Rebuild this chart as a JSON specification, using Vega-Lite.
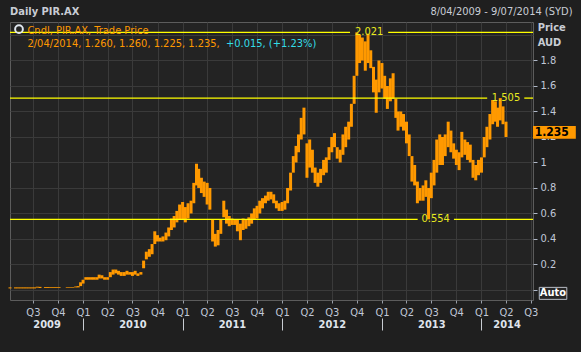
{
  "$schema": "https://vega.github.io/schema/vega-lite/v6.json",
  "width": 523,
  "height": 278,
  "autosize": {"type": "none"},
  "padding": {"left": 10, "top": 22, "right": 48, "bottom": 52},
  "background": "#1f1f1f",
  "config": {
    "view": {"stroke": "#5c5c5c", "fill": "#232323"},
    "font": "Tahoma, 'DejaVu Sans Condensed', 'Liberation Sans', sans-serif",
    "axis": {"labelFont": "Tahoma, 'DejaVu Sans Condensed', 'Liberation Sans', sans-serif"},
    "text": {"font": "Tahoma, 'DejaVu Sans Condensed', 'Liberation Sans', sans-serif"}
  },
  "datasets": {
    "candles": [
      {"d": "2009-04-08", "lo": 0.012, "hi": 0.02},
      {"d": "2009-04-28", "lo": 0.012, "hi": 0.02},
      {"d": "2009-05-08", "lo": 0.012, "hi": 0.02},
      {"d": "2009-05-18", "lo": 0.012, "hi": 0.02},
      {"d": "2009-05-28", "lo": 0.012, "hi": 0.02},
      {"d": "2009-06-07", "lo": 0.012, "hi": 0.02},
      {"d": "2009-06-17", "lo": 0.012, "hi": 0.02},
      {"d": "2009-06-27", "lo": 0.012, "hi": 0.02},
      {"d": "2009-07-07", "lo": 0.012, "hi": 0.02},
      {"d": "2009-07-17", "lo": 0.018, "hi": 0.025},
      {"d": "2009-07-27", "lo": 0.015, "hi": 0.024},
      {"d": "2009-08-16", "lo": 0.015, "hi": 0.022},
      {"d": "2009-08-26", "lo": 0.015, "hi": 0.022},
      {"d": "2009-09-05", "lo": 0.016, "hi": 0.022},
      {"d": "2009-09-15", "lo": 0.016, "hi": 0.022},
      {"d": "2009-09-25", "lo": 0.016, "hi": 0.022},
      {"d": "2009-10-05", "lo": 0.016, "hi": 0.022},
      {"d": "2009-11-04", "lo": 0.018, "hi": 0.023},
      {"d": "2009-11-14", "lo": 0.018, "hi": 0.023},
      {"d": "2009-11-24", "lo": 0.018, "hi": 0.023},
      {"d": "2009-12-05", "lo": 0.02, "hi": 0.027},
      {"d": "2009-12-14", "lo": 0.02, "hi": 0.03},
      {"d": "2009-12-23", "lo": 0.03, "hi": 0.06},
      {"d": "2010-01-01", "lo": 0.05, "hi": 0.08},
      {"d": "2010-01-11", "lo": 0.08, "hi": 0.1},
      {"d": "2010-01-21", "lo": 0.08, "hi": 0.1},
      {"d": "2010-02-01", "lo": 0.08, "hi": 0.1},
      {"d": "2010-02-11", "lo": 0.08, "hi": 0.1},
      {"d": "2010-02-21", "lo": 0.08, "hi": 0.1},
      {"d": "2010-03-01", "lo": 0.09, "hi": 0.12},
      {"d": "2010-03-11", "lo": 0.09, "hi": 0.115},
      {"d": "2010-03-21", "lo": 0.08, "hi": 0.1},
      {"d": "2010-04-01", "lo": 0.08, "hi": 0.1},
      {"d": "2010-04-11", "lo": 0.1, "hi": 0.14},
      {"d": "2010-04-21", "lo": 0.12, "hi": 0.16},
      {"d": "2010-05-01", "lo": 0.13, "hi": 0.16},
      {"d": "2010-05-11", "lo": 0.12, "hi": 0.15},
      {"d": "2010-05-21", "lo": 0.11, "hi": 0.14},
      {"d": "2010-06-01", "lo": 0.11, "hi": 0.14},
      {"d": "2010-06-11", "lo": 0.12, "hi": 0.15},
      {"d": "2010-06-21", "lo": 0.12, "hi": 0.14},
      {"d": "2010-07-01", "lo": 0.11, "hi": 0.14},
      {"d": "2010-07-11", "lo": 0.12, "hi": 0.15},
      {"d": "2010-07-21", "lo": 0.11, "hi": 0.13},
      {"d": "2010-08-01", "lo": 0.12, "hi": 0.14},
      {"d": "2010-08-11", "lo": 0.17, "hi": 0.23},
      {"d": "2010-08-21", "lo": 0.24, "hi": 0.3},
      {"d": "2010-09-01", "lo": 0.26, "hi": 0.32},
      {"d": "2010-09-11", "lo": 0.28, "hi": 0.36},
      {"d": "2010-09-21", "lo": 0.36, "hi": 0.46},
      {"d": "2010-10-01", "lo": 0.38, "hi": 0.43},
      {"d": "2010-10-11", "lo": 0.38, "hi": 0.41},
      {"d": "2010-10-21", "lo": 0.38, "hi": 0.42},
      {"d": "2010-11-01", "lo": 0.39, "hi": 0.45},
      {"d": "2010-11-11", "lo": 0.42, "hi": 0.49},
      {"d": "2010-11-21", "lo": 0.47, "hi": 0.56},
      {"d": "2010-12-01", "lo": 0.49, "hi": 0.58},
      {"d": "2010-12-11", "lo": 0.53, "hi": 0.62},
      {"d": "2010-12-21", "lo": 0.55, "hi": 0.67},
      {"d": "2011-01-01", "lo": 0.55, "hi": 0.69},
      {"d": "2011-01-11", "lo": 0.53, "hi": 0.65},
      {"d": "2011-01-21", "lo": 0.56, "hi": 0.68},
      {"d": "2011-02-01", "lo": 0.6, "hi": 0.7},
      {"d": "2011-02-11", "lo": 0.68, "hi": 0.84},
      {"d": "2011-02-21", "lo": 0.82, "hi": 0.99},
      {"d": "2011-03-01", "lo": 0.8, "hi": 0.95},
      {"d": "2011-03-11", "lo": 0.76, "hi": 0.88},
      {"d": "2011-03-21", "lo": 0.73, "hi": 0.85},
      {"d": "2011-04-01", "lo": 0.67, "hi": 0.84},
      {"d": "2011-04-11", "lo": 0.63, "hi": 0.8},
      {"d": "2011-04-21", "lo": 0.38, "hi": 0.55},
      {"d": "2011-05-01", "lo": 0.34, "hi": 0.44},
      {"d": "2011-05-11", "lo": 0.35, "hi": 0.47},
      {"d": "2011-05-21", "lo": 0.44, "hi": 0.55},
      {"d": "2011-06-01", "lo": 0.57, "hi": 0.7},
      {"d": "2011-06-11", "lo": 0.52, "hi": 0.63},
      {"d": "2011-06-21", "lo": 0.5, "hi": 0.58},
      {"d": "2011-07-01", "lo": 0.51, "hi": 0.56},
      {"d": "2011-07-11", "lo": 0.51, "hi": 0.55},
      {"d": "2011-07-21", "lo": 0.46, "hi": 0.55},
      {"d": "2011-08-01", "lo": 0.39, "hi": 0.52},
      {"d": "2011-08-11", "lo": 0.47, "hi": 0.56},
      {"d": "2011-08-21", "lo": 0.48, "hi": 0.55},
      {"d": "2011-09-01", "lo": 0.5, "hi": 0.57},
      {"d": "2011-09-11", "lo": 0.52, "hi": 0.6},
      {"d": "2011-09-21", "lo": 0.55, "hi": 0.64},
      {"d": "2011-10-01", "lo": 0.56, "hi": 0.66},
      {"d": "2011-10-11", "lo": 0.6, "hi": 0.7},
      {"d": "2011-10-21", "lo": 0.64, "hi": 0.72},
      {"d": "2011-11-01", "lo": 0.68, "hi": 0.74},
      {"d": "2011-11-11", "lo": 0.7, "hi": 0.77},
      {"d": "2011-11-21", "lo": 0.71, "hi": 0.77},
      {"d": "2011-12-01", "lo": 0.68, "hi": 0.75},
      {"d": "2011-12-11", "lo": 0.64, "hi": 0.7},
      {"d": "2011-12-21", "lo": 0.62, "hi": 0.68},
      {"d": "2012-01-01", "lo": 0.62, "hi": 0.69},
      {"d": "2012-01-11", "lo": 0.63, "hi": 0.7},
      {"d": "2012-01-21", "lo": 0.68, "hi": 0.8},
      {"d": "2012-02-01", "lo": 0.78, "hi": 0.92},
      {"d": "2012-02-11", "lo": 0.92, "hi": 1.05},
      {"d": "2012-02-21", "lo": 1.0, "hi": 1.13},
      {"d": "2012-03-01", "lo": 1.08, "hi": 1.22},
      {"d": "2012-03-11", "lo": 1.18, "hi": 1.35},
      {"d": "2012-03-21", "lo": 1.22, "hi": 1.43},
      {"d": "2012-04-01", "lo": 0.88, "hi": 1.15},
      {"d": "2012-04-11", "lo": 0.96, "hi": 1.18},
      {"d": "2012-04-21", "lo": 0.92, "hi": 1.1},
      {"d": "2012-05-01", "lo": 0.84, "hi": 0.96},
      {"d": "2012-05-11", "lo": 0.81, "hi": 0.92},
      {"d": "2012-05-21", "lo": 0.84, "hi": 0.95},
      {"d": "2012-06-01", "lo": 0.9, "hi": 1.02},
      {"d": "2012-06-11", "lo": 0.92, "hi": 1.04},
      {"d": "2012-06-21", "lo": 1.02, "hi": 1.12},
      {"d": "2012-07-01", "lo": 1.08, "hi": 1.2},
      {"d": "2012-07-11", "lo": 1.12, "hi": 1.23},
      {"d": "2012-07-21", "lo": 1.03, "hi": 1.12},
      {"d": "2012-08-01", "lo": 1.0, "hi": 1.1},
      {"d": "2012-08-11", "lo": 1.06, "hi": 1.22},
      {"d": "2012-08-21", "lo": 1.12, "hi": 1.28},
      {"d": "2012-09-01", "lo": 1.18, "hi": 1.32},
      {"d": "2012-09-11", "lo": 1.28, "hi": 1.46},
      {"d": "2012-09-21", "lo": 1.46, "hi": 1.68},
      {"d": "2012-10-01", "lo": 1.68, "hi": 2.021},
      {"d": "2012-10-11", "lo": 1.78, "hi": 2.0},
      {"d": "2012-10-21", "lo": 1.8, "hi": 1.98},
      {"d": "2012-11-01", "lo": 1.72, "hi": 1.95},
      {"d": "2012-11-11", "lo": 1.78, "hi": 2.01},
      {"d": "2012-11-21", "lo": 1.74, "hi": 1.88},
      {"d": "2012-12-01", "lo": 1.55, "hi": 1.75},
      {"d": "2012-12-11", "lo": 1.39, "hi": 1.65},
      {"d": "2012-12-21", "lo": 1.55, "hi": 1.8},
      {"d": "2013-01-01", "lo": 1.58, "hi": 1.78},
      {"d": "2013-01-11", "lo": 1.5, "hi": 1.68},
      {"d": "2013-01-21", "lo": 1.42, "hi": 1.6},
      {"d": "2013-02-01", "lo": 1.48, "hi": 1.66},
      {"d": "2013-02-11", "lo": 1.5, "hi": 1.7},
      {"d": "2013-02-21", "lo": 1.35, "hi": 1.5},
      {"d": "2013-03-01", "lo": 1.25, "hi": 1.4},
      {"d": "2013-03-11", "lo": 1.28, "hi": 1.4},
      {"d": "2013-03-21", "lo": 1.25, "hi": 1.38},
      {"d": "2013-04-01", "lo": 1.15, "hi": 1.32},
      {"d": "2013-04-11", "lo": 1.05, "hi": 1.22},
      {"d": "2013-04-21", "lo": 0.85, "hi": 1.05},
      {"d": "2013-05-01", "lo": 0.82, "hi": 0.98},
      {"d": "2013-05-11", "lo": 0.68, "hi": 0.85},
      {"d": "2013-05-21", "lo": 0.7, "hi": 0.8},
      {"d": "2013-06-01", "lo": 0.7, "hi": 0.82},
      {"d": "2013-06-11", "lo": 0.73, "hi": 0.86},
      {"d": "2013-06-21", "lo": 0.554, "hi": 0.8},
      {"d": "2013-07-01", "lo": 0.72, "hi": 0.92},
      {"d": "2013-07-11", "lo": 0.82, "hi": 1.02},
      {"d": "2013-07-21", "lo": 0.92, "hi": 1.18},
      {"d": "2013-08-01", "lo": 0.98, "hi": 1.22},
      {"d": "2013-08-11", "lo": 0.98, "hi": 1.2},
      {"d": "2013-08-21", "lo": 1.05, "hi": 1.22},
      {"d": "2013-09-01", "lo": 1.12, "hi": 1.32},
      {"d": "2013-09-11", "lo": 1.08, "hi": 1.25},
      {"d": "2013-09-21", "lo": 1.03, "hi": 1.15},
      {"d": "2013-10-01", "lo": 0.98, "hi": 1.1},
      {"d": "2013-10-11", "lo": 0.94, "hi": 1.08},
      {"d": "2013-10-21", "lo": 1.04, "hi": 1.24},
      {"d": "2013-11-01", "lo": 1.06, "hi": 1.18},
      {"d": "2013-11-11", "lo": 1.02, "hi": 1.16},
      {"d": "2013-11-21", "lo": 1.0, "hi": 1.14},
      {"d": "2013-12-01", "lo": 0.88, "hi": 1.02},
      {"d": "2013-12-11", "lo": 0.86, "hi": 0.98},
      {"d": "2013-12-21", "lo": 0.9, "hi": 1.02},
      {"d": "2014-01-01", "lo": 0.92, "hi": 1.04},
      {"d": "2014-01-11", "lo": 1.04, "hi": 1.2},
      {"d": "2014-01-21", "lo": 1.12, "hi": 1.28},
      {"d": "2014-02-01", "lo": 1.18, "hi": 1.38},
      {"d": "2014-02-11", "lo": 1.3, "hi": 1.49},
      {"d": "2014-02-21", "lo": 1.32, "hi": 1.48},
      {"d": "2014-03-01", "lo": 1.28, "hi": 1.43},
      {"d": "2014-03-11", "lo": 1.33, "hi": 1.505},
      {"d": "2014-03-21", "lo": 1.3, "hi": 1.44},
      {"d": "2014-04-01", "lo": 1.2, "hi": 1.32}
    ],
    "refs": [
      {"v": 2.021, "d": "2009-04-08", "d2": "2012-09-06"},
      {"v": 2.021, "d": "2013-01-24", "d2": "2014-07-09"},
      {"v": 1.505, "d": "2009-04-08", "d2": "2014-01-22"},
      {"v": 1.505, "d": "2014-06-07", "d2": "2014-07-09"},
      {"v": 0.554, "d": "2009-04-08", "d2": "2013-05-12"},
      {"v": 0.554, "d": "2013-09-22", "d2": "2014-07-09"}
    ],
    "reflabels": [
      {"v": 2.021, "d": "2012-11-15", "label": "2.021"},
      {"v": 1.505, "d": "2014-04-01", "label": "1.505"},
      {"v": 0.554, "d": "2013-07-17", "label": "0.554"}
    ],
    "boxes": [
      {"kind": "last", "d": "2014-07-09", "d2": "2014-12-13", "v": 1.186, "v2": 1.286},
      {"kind": "auto", "d": "2014-08-01", "d2": "2014-11-10", "v": -0.074, "v2": 0.02}
    ],
    "notes": [
      {"kind": "title", "d": "2009-04-08", "v": 2.18, "label": "Daily PIR.AX"},
      {"kind": "range", "d": "2014-12-01", "v": 2.18, "label": "8/04/2009 - 9/07/2014 (SYD)"},
      {"kind": "series", "d": "2009-06-11", "v": 2.034, "label": "Cndl, PIR.AX, Trade Price"},
      {"kind": "series", "d": "2009-06-11", "v": 1.93, "label": "2/04/2014, 1.260, 1.260, 1.225, 1.235,"},
      {"kind": "change", "d": "2011-06-09", "v": 1.93, "label": "+0.015, (+1.23%)"},
      {"kind": "unit", "d": "2014-07-26", "v": 2.054, "label": "Price"},
      {"kind": "unit", "d": "2014-07-26", "v": 1.936, "label": "AUD"},
      {"kind": "last", "d": "2014-07-15", "v": 1.236, "label": "1.235"},
      {"kind": "auto", "d": "2014-09-20", "v": -0.027, "label": "Auto"},
      {"kind": "icon", "d": "2009-05-11", "v": 2.046, "label": ""}
    ]
  },
  "resolve": {"axis": {"x": "independent", "y": "independent"}},
  "layer": [
    {
      "data": {"name": "candles"},
      "mark": {"type": "rule", "color": "#ff9900", "strokeWidth": 3, "strokeCap": "butt"},
      "encoding": {
        "x": {"field": "d", "type": "temporal",
              "scale": {"domain": [{"year": 2009, "month": 4, "date": 8}, {"year": 2014, "month": 7, "date": 9}]},
              "axis": {"title": null, "tickCount": {"interval": "month", "step": 3},
                       "labelExpr": "'Q' + (floor(month(datum.value)/3)+1)",
                       "grid": true, "gridColor": "#3a3a3a", "domain": false,
                       "ticks": true, "tickColor": "#9aa0aa", "tickSize": 3,
                       "labelColor": "#c0c8d8", "labelFontSize": 11, "labelPadding": 3,
                       "labelOverlap": false, "labelFlush": false}},
        "y": {"field": "lo", "type": "quantitative",
              "scale": {"domain": [-0.079, 2.102], "nice": false, "zero": false},
              "axis": {"title": null, "orient": "left", "values": [0, 0.2, 0.4, 0.6, 0.8, 1, 1.2, 1.4, 1.6, 1.8, 2.0],
                       "grid": true, "gridColor": "#3a3a3a", "labels": false, "ticks": false, "domain": false}},
        "y2": {"field": "hi"}
      }
    },
    {
      "data": {"name": "refs"},
      "mark": {"type": "rule", "color": "#ffff00", "strokeWidth": 1.3},
      "encoding": {
        "x": {"field": "d", "type": "temporal",
              "scale": {"domain": [{"year": 2009, "month": 4, "date": 8}, {"year": 2014, "month": 7, "date": 9}]},
              "axis": null},
        "x2": {"field": "d2"},
        "y": {"field": "v", "type": "quantitative",
              "scale": {"domain": [-0.079, 2.102], "nice": false, "zero": false},
              "axis": {"title": null, "orient": "right", "values": [0, 0.2, 0.4, 0.6, 0.8, 1, 1.2, 1.4, 1.6, 1.8],
                       "labelExpr": "datum.value == 0 ? '' : format(datum.value, '.1~f')",
                       "grid": false, "domain": false, "ticks": true, "tickColor": "#b0b8c8", "tickSize": 4,
                       "labelColor": "#c0c8d8", "labelFontSize": 11, "labelPadding": 3}}
      }
    },
    {
      "data": {"name": "reflabels"},
      "mark": {"type": "text", "color": "#e8ea20", "fontSize": 11, "align": "center", "baseline": "middle"},
      "encoding": {
        "x": {"field": "d", "type": "temporal",
              "scale": {"domain": [{"year": 2009, "month": 4, "date": 8}, {"year": 2014, "month": 7, "date": 9}]},
              "axis": {"title": null, "orient": "bottom",
                       "values": [{"year": 2009, "month": 8, "date": 20}, {"year": 2010, "month": 7, "date": 1}, {"year": 2011, "month": 7, "date": 1}, {"year": 2012, "month": 7, "date": 1}, {"year": 2013, "month": 7, "date": 1}, {"year": 2014, "month": 4, "date": 3}],
                       "format": "%Y", "grid": false, "domain": false, "ticks": false,
                       "labelColor": "#dfe4ec", "labelFontWeight": "bold", "labelFontSize": 11, "labelPadding": 18,
                       "labelOverlap": false, "labelFlush": false}},
        "y": {"field": "v", "type": "quantitative",
              "scale": {"domain": [-0.079, 2.102], "nice": false, "zero": false}, "axis": null},
        "text": {"field": "label"}
      }
    },
    {
      "data": {"name": "boxes"},
      "transform": [{"filter": "datum.kind == 'last'"}],
      "mark": {"type": "rect", "color": "#ff9900"},
      "encoding": {
        "x": {"field": "d", "type": "temporal",
              "scale": {"domain": [{"year": 2009, "month": 4, "date": 8}, {"year": 2014, "month": 7, "date": 9}]},
              "axis": {"title": null, "orient": "bottom", "offset": 18,
                       "values": [{"year": 2010, "month": 1, "date": 1}, {"year": 2011, "month": 1, "date": 1}, {"year": 2012, "month": 1, "date": 1}, {"year": 2013, "month": 1, "date": 1}, {"year": 2014, "month": 1, "date": 1}],
                       "labels": false, "grid": false, "domain": false, "ticks": true, "tickSize": 12, "tickColor": "#c8ccd2"}},
        "x2": {"field": "d2"},
        "y": {"field": "v", "type": "quantitative",
              "scale": {"domain": [-0.079, 2.102], "nice": false, "zero": false}, "axis": null},
        "y2": {"field": "v2"}
      }
    },
    {
      "data": {"name": "boxes"},
      "transform": [{"filter": "datum.kind == 'auto'"}],
      "mark": {"type": "rect", "fill": "#262626", "stroke": "#b8bcc4", "strokeWidth": 1},
      "encoding": {
        "x": {"field": "d", "type": "temporal", "axis": null},
        "x2": {"field": "d2"},
        "y": {"field": "v", "type": "quantitative", "axis": null},
        "y2": {"field": "v2"}
      }
    },
    {
      "data": {"name": "notes"},
      "transform": [{"filter": "datum.kind == 'title'"}],
      "mark": {"type": "text", "color": "#c8ccd4", "fontSize": 11, "fontWeight": "bold", "align": "left", "baseline": "middle"},
      "encoding": {
        "x": {"field": "d", "type": "temporal", "axis": null},
        "y": {"field": "v", "type": "quantitative", "axis": null},
        "text": {"field": "label"}
      }
    },
    {
      "data": {"name": "notes"},
      "transform": [{"filter": "datum.kind == 'range'"}],
      "mark": {"type": "text", "color": "#c8ccd4", "fontSize": 11, "align": "right", "baseline": "middle"},
      "encoding": {
        "x": {"field": "d", "type": "temporal", "axis": null},
        "y": {"field": "v", "type": "quantitative", "axis": null},
        "text": {"field": "label"}
      }
    },
    {
      "data": {"name": "notes"},
      "transform": [{"filter": "datum.kind == 'series'"}],
      "mark": {"type": "text", "color": "#ff9900", "fontSize": 11, "align": "left", "baseline": "middle"},
      "encoding": {
        "x": {"field": "d", "type": "temporal", "axis": null},
        "y": {"field": "v", "type": "quantitative", "axis": null},
        "text": {"field": "label"}
      }
    },
    {
      "data": {"name": "notes"},
      "transform": [{"filter": "datum.kind == 'change'"}],
      "mark": {"type": "text", "color": "#33dde8", "fontSize": 11, "align": "left", "baseline": "middle"},
      "encoding": {
        "x": {"field": "d", "type": "temporal", "axis": null},
        "y": {"field": "v", "type": "quantitative", "axis": null},
        "text": {"field": "label"}
      }
    },
    {
      "data": {"name": "notes"},
      "transform": [{"filter": "datum.kind == 'unit'"}],
      "mark": {"type": "text", "color": "#c8ccd4", "fontSize": 11, "fontWeight": "bold", "align": "left", "baseline": "middle"},
      "encoding": {
        "x": {"field": "d", "type": "temporal", "axis": null},
        "y": {"field": "v", "type": "quantitative", "axis": null},
        "text": {"field": "label"}
      }
    },
    {
      "data": {"name": "notes"},
      "transform": [{"filter": "datum.kind == 'last'"}],
      "mark": {"type": "text", "color": "#000000", "fontSize": 12, "fontWeight": "bold", "align": "left", "baseline": "middle"},
      "encoding": {
        "x": {"field": "d", "type": "temporal", "axis": null},
        "y": {"field": "v", "type": "quantitative", "axis": null},
        "text": {"field": "label"}
      }
    },
    {
      "data": {"name": "notes"},
      "transform": [{"filter": "datum.kind == 'auto'"}],
      "mark": {"type": "text", "color": "#ffffff", "fontSize": 11, "fontWeight": "bold", "align": "center", "baseline": "middle"},
      "encoding": {
        "x": {"field": "d", "type": "temporal", "axis": null},
        "y": {"field": "v", "type": "quantitative", "axis": null},
        "text": {"field": "label"}
      }
    },
    {
      "data": {"name": "notes"},
      "transform": [{"filter": "datum.kind == 'icon'"}],
      "mark": {"type": "point", "shape": "circle", "filled": false, "stroke": "#dfe6ee", "strokeWidth": 2, "size": 60, "opacity": 1},
      "encoding": {
        "x": {"field": "d", "type": "temporal", "axis": null},
        "y": {"field": "v", "type": "quantitative", "axis": null}
      }
    }
  ]
}
